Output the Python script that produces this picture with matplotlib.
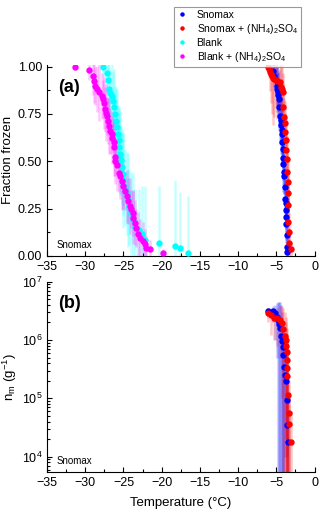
"""
Fraction frozen e n_m vs temperatura (Snomax / Blank)
"""

import matplotlib
matplotlib.use("Agg")
import matplotlib.pyplot as plt
from matplotlib.ticker import MultipleLocator, LogLocator, NullFormatter

plt.rcParams["font.family"] = ["Liberation Sans", "DejaVu Sans"]
plt.rcParams["mathtext.default"] = "regular"

######################################################################
# painel (a): fração congelada

blank_as_t = [-31.4, -29.55, -29.0, -28.85, -28.7, -28.5, -28.15, -27.85, -27.65, -27.55,
              -27.4, -27.3, -27.2, -27.0, -26.85, -26.75, -26.55, -26.45, -26.3, -26.2,
              -26.15, -26.1, -25.9, -25.65, -25.45, -25.25, -25.0, -24.8, -24.6, -24.35,
              -24.15, -24.0, -23.8, -23.7, -23.5, -23.3, -23.05, -22.85, -22.5, -22.2,
              -22.0, -21.55, -19.8]
blank_as_f = [1.00, 0.98, 0.952, 0.926, 0.9, 0.882, 0.864, 0.846, 0.828, 0.81,
              0.775, 0.757, 0.74, 0.713, 0.687, 0.66, 0.642, 0.625, 0.6, 0.574,
              0.522, 0.5, 0.482, 0.438, 0.42, 0.394, 0.368, 0.342, 0.316, 0.29,
              0.264, 0.246, 0.228, 0.202, 0.176, 0.15, 0.114, 0.096, 0.079, 0.061,
              0.044, 0.035, 0.018]
blank_as_err = [0.02, 0.05, 0.1, 0.12, 0.1, 0.12, 0.15, 0.12, 0.1, 0.14,
                0.12, 0.15, 0.1, 0.12, 0.15, 0.12, 0.1, 0.14, 0.12, 0.15,
                0.1, 0.12, 0.14, 0.1, 0.12, 0.15, 0.12, 0.1, 0.14, 0.12,
                0.15, 0.1, 0.12, 0.14, 0.12, 0.1, 0.12, 0.1, 0.1, 0.08,
                0.06, 0.05, 0.02]

blank_t = [-27.65, -27.1, -27.0, -26.85, -26.75, -26.55, -26.35, -26.2, -26.05, -25.95,
           -25.85, -25.75, -25.65, -25.55, -25.45, -25.35, -25.25, -25.1, -25.0, -24.8,
           -24.6, -24.45, -24.3, -24.0, -23.7, -23.45, -23.0, -22.6, -22.15, -20.3,
           -18.25, -17.6, -16.5]
blank_f = [1.00, 0.965, 0.93, 0.88, 0.86, 0.843, 0.82, 0.785, 0.75, 0.715,
           0.68, 0.645, 0.61, 0.575, 0.54, 0.505, 0.47, 0.435, 0.4, 0.365,
           0.33, 0.295, 0.26, 0.225, 0.19, 0.155, 0.135, 0.118, 0.087, 0.07,
           0.053, 0.04, 0.018]
blank_err = [0.05, 0.1, 0.12, 0.15, 0.12, 0.18, 0.15, 0.2, 0.15, 0.18,
             0.2, 0.15, 0.18, 0.2, 0.22, 0.18, 0.2, 0.22, 0.25, 0.2,
             0.22, 0.25, 0.2, 0.22, 0.25, 0.2, 0.22, 0.25, 0.28, 0.3,
             0.35, 0.3, 0.3]

snomax_t = [-5.39, -5.3, -5.1, -4.95, -4.87, -4.82, -4.75, -4.69, -4.6, -4.51,
            -4.45, -4.38, -4.3, -4.25, -4.21, -4.15, -4.08, -4.08, -4.0, -3.95,
            -3.9, -3.86, -3.77, -3.75, -3.73, -3.68, -3.64, -3.55, -3.6]
snomax_f = [0.979, 0.95, 0.93, 0.9, 0.88, 0.865, 0.85, 0.83, 0.786, 0.742,
            0.72, 0.69, 0.665, 0.646, 0.6, 0.567, 0.52, 0.488, 0.445, 0.425,
            0.365, 0.303, 0.28, 0.241, 0.205, 0.17, 0.109, 0.047, 0.02]
snomax_err = [0.04, 0.06, 0.08, 0.1, 0.12, 0.1, 0.12, 0.15, 0.12, 0.15,
              0.12, 0.15, 0.12, 0.15, 0.12, 0.1, 0.12, 0.15, 0.12, 0.1,
              0.12, 0.1, 0.12, 0.1, 0.12, 0.1, 0.08, 0.05, 0.02]

snomax_as_t = [-6.04, -5.95, -5.82, -5.7, -5.6, -5.45, -5.3, -5.1, -4.85, -4.51,
               -4.4, -4.3, -4.17, -4.08, -3.95, -3.9, -3.86, -3.77, -3.7, -3.64,
               -3.55, -3.51, -3.45, -3.42, -3.42, -3.33, -3.29, -3.11]
snomax_as_f = [1.00, 0.99, 0.97, 0.96, 0.95, 0.94, 0.935, 0.93, 0.925, 0.917,
               0.89, 0.88, 0.865, 0.786, 0.733, 0.7, 0.654, 0.61, 0.56, 0.514,
               0.444, 0.39, 0.33, 0.268, 0.18, 0.128, 0.067, 0.035]
snomax_as_err = [0.02, 0.05, 0.1, 0.15, 0.2, 0.25, 0.2, 0.15, 0.2, 0.15,
                 0.12, 0.15, 0.1, 0.12, 0.1, 0.12, 0.1, 0.12, 0.1, 0.12,
                 0.1, 0.12, 0.1, 0.1, 0.12, 0.1, 0.08, 0.04]

######################################################################
# painel (b): n_m

nm_snomax_t = [-6.04, -5.47, -5.2, -4.95, -4.74, -4.6, -4.51, -4.38, -4.21, -4.08,
               -4.08, -3.95, -3.86, -3.77, -3.64, -3.55, -3.51]
nm_snomax = [3.1e6, 3.1e6, 2.9e6, 2.5e6, 2.2e6, 1.9e6, 1.6e6, 1.15e6, 9.5e5, 7.6e5,
             5.6e5, 3.5e5, 2.5e5, 1.95e5, 9.5e4, 3.5e4, 1.8e4]
nm_snomax_lo = [2.5e6, 2.0e6, 1.0e6, 5.0e5, 1.0e3, 1.0e3, 1.0e3, 1.0e3, 1.0e3, 1.0e3,
                1.0e3, 1.0e3, 1.0e4, 2.0e4, 1.0e4, 5.0e3, 5.0e3]
nm_snomax_hi = [3.5e6, 3.8e6, 4.0e6, 4.3e6, 4.5e6, 4.5e6, 4.4e6, 4.0e6, 3.0e6, 2.0e6,
                1.5e6, 1.0e6, 8.0e5, 6.0e5, 3.0e5, 1.0e5, 5.0e4]

nm_as_t = [-6.04, -5.73, -5.3, -4.87, -4.51, -4.3, -4.08, -3.86, -3.77, -3.77,
           -3.64, -3.64, -3.55, -3.55, -3.42, -3.29, -3.29, -3.11]
nm_as = [2.9e6, 2.7e6, 2.4e6, 2.4e6, 2.2e6, 1.95e6, 1.55e6, 1.15e6, 1.0e6, 7.8e5,
         6.3e5, 4.6e5, 3.3e5, 2.4e5, 1.15e5, 5.7e4, 3.6e4, 1.8e4]
nm_as_lo = [2.0e6, 1.2e6, 1.0e6, 8.0e5, 5.0e5, 1.0e5, 1.0e3, 1.0e3, 1.0e3, 1.0e3,
            1.0e3, 1.0e3, 1.0e3, 1.0e3, 1.0e3, 1.0e3, 1.0e3, 1.0e3]
nm_as_hi = [3.5e6, 3.6e6, 3.5e6, 3.6e6, 3.8e6, 3.8e6, 3.6e6, 3.0e6, 2.5e6, 2.0e6,
            1.6e6, 1.2e6, 9.0e5, 7.0e5, 4.0e5, 2.0e5, 1.2e5, 6.0e4]

legenda = ["Snomax", "Snomax + (NH$_4$)$_2$SO$_4$", "Blank", "Blank + (NH$_4$)$_2$SO$_4$"]
cores = ["#0000ff", "#ff0000", "#00ffff", "#ff00ff"]

######################################################################

def estilo_eixo(ax):
    ax.spines["top"].set_visible(False)
    ax.spines["right"].set_visible(False)
    ax.tick_params(direction="in", labelsize=9, length=3.5, width=0.8, top=False, right=False)
    ax.tick_params(which="minor", direction="in", length=2, width=0.8)
    ax.set_xlim(-35, 0)
    ax.xaxis.set_major_locator(MultipleLocator(5))
    ax.xaxis.set_minor_locator(MultipleLocator(2.5))


def serie(ax, x, y, erro, cor, rotulo, ordem):
    ax.errorbar(x, y, yerr=erro, fmt="none", ecolor=cor, alpha=0.22, elinewidth=1.8,
                zorder=ordem)
    ax.plot(x, y, "o", color=cor, ms=4.6, mew=0, label=rotulo, zorder=ordem + 5)


fig = plt.figure(figsize=(3.2, 5.14), dpi=100)
ax1 = fig.add_axes([0.147, 0.502, 0.836, 0.372])
ax2 = fig.add_axes([0.147, 0.082, 0.836, 0.370])

serie(ax1, blank_t, blank_f, blank_err, cores[2], legenda[2], 1)
serie(ax1, blank_as_t, blank_as_f, blank_as_err, cores[3], legenda[3], 2)
serie(ax1, snomax_t, snomax_f, snomax_err, cores[0], legenda[0], 3)
serie(ax1, snomax_as_t, snomax_as_f, snomax_as_err, cores[1], legenda[1], 4)

estilo_eixo(ax1)
ax1.set_ylim(0, 1.01)
ax1.yaxis.set_major_locator(MultipleLocator(0.25))
ax1.yaxis.set_minor_locator(MultipleLocator(0.125))
ax1.yaxis.set_major_formatter(plt.FormatStrFormatter("%.2f"))
ax1.set_ylabel("Fraction frozen", fontsize=9.5, labelpad=3)
ax1.text(0.04, 0.86, "(a)", transform=ax1.transAxes, fontsize=13, fontweight="bold")
ax1.text(0.035, 0.04, "Snomax", transform=ax1.transAxes, fontsize=7)

# painel (b)
for x, y, lo, hi, cor, rot, z in [(nm_snomax_t, nm_snomax, nm_snomax_lo, nm_snomax_hi, cores[0], legenda[0], 1),
                                  (nm_as_t, nm_as, nm_as_lo, nm_as_hi, cores[1], legenda[1], 2)]:
    erro = [[v - l for v, l in zip(y, lo)], [h - v for v, h in zip(y, hi)]]
    serie(ax2, x, y, erro, cor, rot, z)

estilo_eixo(ax2)
ax2.set_yscale("log")
ax2.set_ylim(5.5e3, 1e7)
ax2.yaxis.set_major_locator(LogLocator(base=10, numticks=10))
ax2.yaxis.set_minor_locator(LogLocator(base=10, subs=range(2, 10), numticks=10))
ax2.yaxis.set_minor_formatter(NullFormatter())
ax2.tick_params(direction="in", labelsize=9)
ax2.set_ylabel("n$_m$ (g$^{-1}$)", fontsize=9.5, labelpad=2)
ax2.set_xlabel("Temperature (°C)", fontsize=9.5, labelpad=6)
ax2.text(0.04, 0.86, "(b)", transform=ax2.transAxes, fontsize=13, fontweight="bold")
ax2.text(0.035, 0.04, "Snomax", transform=ax2.transAxes, fontsize=7)

# legenda
h, l = ax1.get_legend_handles_labels()
ordem = [l.index(t) for t in legenda]
leg = fig.legend([h[i] for i in ordem], [l[i] for i in ordem], loc="upper right",
                 bbox_to_anchor=(0.958, 0.997), fontsize=7.5, frameon=True, fancybox=False,
                 edgecolor="#808080", handlelength=1.0, handletextpad=0.9,
                 borderpad=0.3, labelspacing=0.2, markerscale=0.7)
leg.get_frame().set_linewidth(0.8)

fig.savefig("out.png", dpi=100)
